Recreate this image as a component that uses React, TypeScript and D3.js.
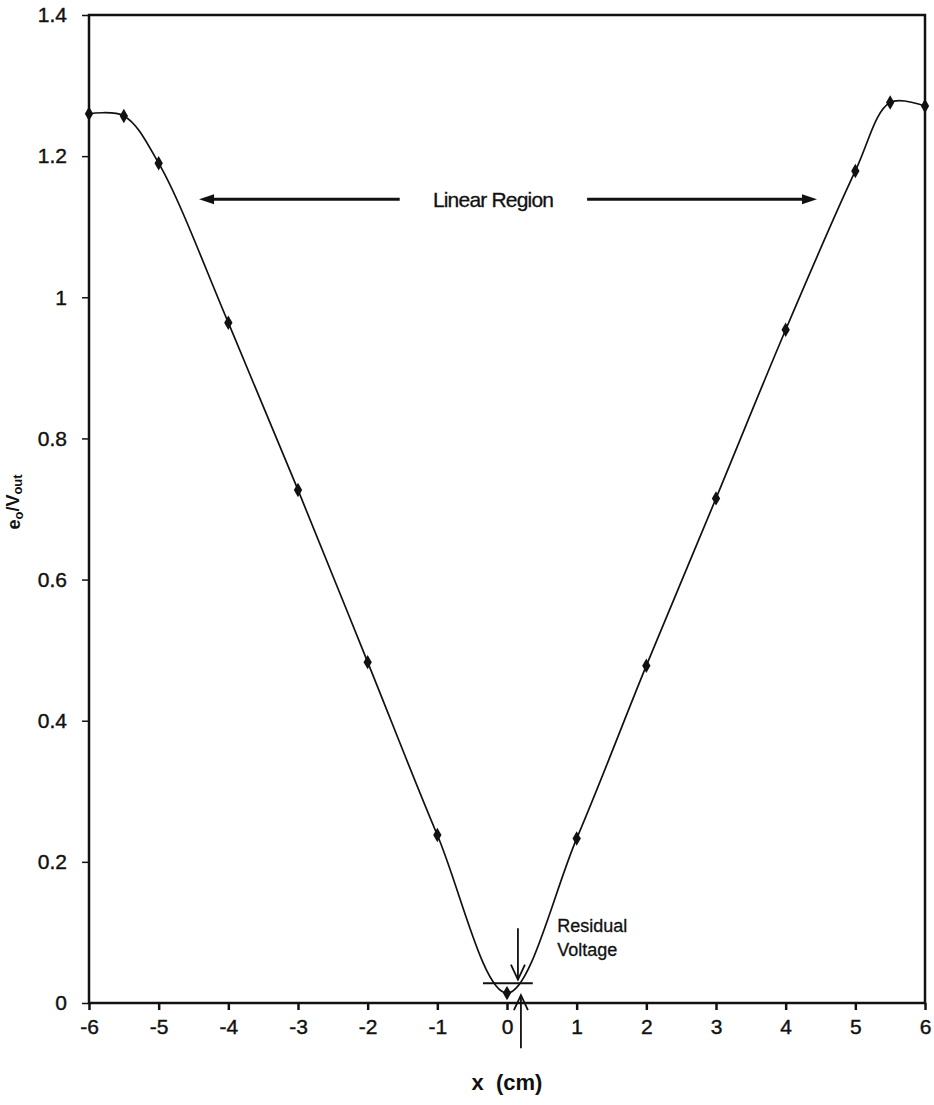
import * as d3 from "d3";
import { useEffect, useRef } from "react";

// measured points, x in cm, y is e_o / V_out
const xValues = [-6, -5.5, -5, -4, -3, -2, -1, 0, 1, 2, 3, 4, 5, 5.5, 6];
const yValues = [1.26, 1.257, 1.19, 0.964, 0.727, 0.483, 0.238, 0.014, 0.233, 0.478, 0.715, 0.954, 1.179, 1.276, 1.271];

const xTicks = [-6, -5, -4, -3, -2, -1, 0, 1, 2, 3, 4, 5, 6];
const yTicks = [0, 0.2, 0.4, 0.6, 0.8, 1, 1.2, 1.4];

// annotation anchors in data units
const linearArrowLeft = [-4.42, -1.54];
const linearArrowRight = [1.15, 4.45];
const linearArrowY = 1.139;
const linearLabelX = -0.2;

const residualBar = [-0.345, 0.37, 0.028];
const residualDown = [0.157, 0.106, 0.033];
const residualUp = [0.2, -0.064, 0.011];
const residualLabel = [0.72, 0.1];

const W = 934;
const H = 1105;

const App = () => {
  const chartRef = useRef(null);

  useEffect(() => {
    const svg = d3.select(chartRef.current);
    svg.selectAll("*").remove();

    const margin = { top: 15, bottom: 102, left: 89, right: 9 };

    const scaleX = d3.scaleLinear().domain([-6, 6]).range([margin.left, W - margin.right]);
    const scaleY = d3.scaleLinear().domain([0, 1.4]).range([H - margin.bottom, margin.top]);

    const font = "'Liberation Sans', Arial, sans-serif";

    // frame
    svg.append("rect")
      .attr("x", scaleX(-6))
      .attr("y", scaleY(1.4))
      .attr("width", scaleX(6) - scaleX(-6))
      .attr("height", scaleY(0) - scaleY(1.4))
      .style("fill", "none")
      .style("stroke", "#111")
      .style("stroke-width", 2.5);

    const xAxis = d3.axisBottom(scaleX)
      .tickValues(xTicks)
      .tickSize(7)
      .tickPadding(9)
      .tickFormat(d => String(d));

    const gx = svg.append("g")
      .attr("transform", `translate(0, ${scaleY(0)})`)
      .call(xAxis);

    gx.select(".domain").remove();
    gx.selectAll("line").style("stroke", "#111").style("stroke-width", 2.5);
    gx.selectAll("text")
      .style("font-family", font)
      .style("font-size", "21px")
      .style("stroke", "#111")
      .style("stroke-width", 0.4)
      .style("fill", "#111");

    const yAxis = d3.axisLeft(scaleY)
      .tickValues(yTicks)
      .tickSize(7)
      .tickPadding(15)
      .tickFormat(d => (d === 0 || d === 1 ? String(d) : d3.format(".1f")(d)));

    const gy = svg.append("g")
      .attr("transform", `translate(${scaleX(-6)}, 0)`)
      .call(yAxis);

    gy.select(".domain").remove();
    gy.selectAll("line").style("stroke", "#111").style("stroke-width", 1.5);
    gy.selectAll("text")
      .style("font-family", font)
      .style("font-size", "21px")
      .style("stroke", "#111")
      .style("stroke-width", 0.4)
      .style("fill", "#111");

    const points = xValues.map((x, i) => [x, yValues[i]]);

    const line = d3.line()
      .x(d => scaleX(d[0]))
      .y(d => scaleY(d[1]))
      .curve(d3.curveCatmullRom.alpha(0.5));

    svg.append("path")
      .datum(points)
      .attr("d", line)
      .style("fill", "none")
      .style("stroke", "#111")
      .style("stroke-width", 1.7);

    svg.selectAll(".dot")
      .data(points)
      .enter()
      .append("path")
      .attr("class", "dot")
      .attr("d", d3.symbol().type(d3.symbolDiamond).size(60))
      .attr("transform", d => `translate(${scaleX(d[0])}, ${scaleY(d[1])})`)
      .style("fill", "#111");

    // arrow helpers
    const filledHead = (tipX, tipY, dir) => {
      const len = 15;
      const half = 5;
      svg.append("path")
        .attr("d", `M${tipX},${tipY} L${tipX - dir * len},${tipY - half} L${tipX - dir * len},${tipY + half} Z`)
        .style("fill", "#111");
    };

    // linear region arrows
    const ay = scaleY(linearArrowY);
    svg.append("line")
      .attr("x1", scaleX(linearArrowLeft[0]) + 10)
      .attr("x2", scaleX(linearArrowLeft[1]))
      .attr("y1", ay)
      .attr("y2", ay)
      .style("stroke", "#111")
      .style("stroke-width", 3);
    filledHead(scaleX(linearArrowLeft[0]), ay, -1);

    svg.append("line")
      .attr("x1", scaleX(linearArrowRight[0]))
      .attr("x2", scaleX(linearArrowRight[1]) - 10)
      .attr("y1", ay)
      .attr("y2", ay)
      .style("stroke", "#111")
      .style("stroke-width", 3);
    filledHead(scaleX(linearArrowRight[1]), ay, 1);

    svg.append("text")
      .attr("x", scaleX(linearLabelX))
      .attr("y", ay)
      .attr("dy", "0.35em")
      .attr("text-anchor", "middle")
      .style("font-family", font)
      .style("font-size", "21px")
      .style("letter-spacing", "-0.8px")
      .style("stroke", "#111")
      .style("stroke-width", 0.3)
      .style("fill", "#111")
      .text("Linear Region");

    // residual voltage marker
    svg.append("line")
      .attr("x1", scaleX(residualBar[0]))
      .attr("x2", scaleX(residualBar[1]))
      .attr("y1", scaleY(residualBar[2]))
      .attr("y2", scaleY(residualBar[2]))
      .style("stroke", "#111")
      .style("stroke-width", 2);

    const vArrow = (x, y0, y1) => {
      const px = scaleX(x);
      const p0 = scaleY(y0);
      const p1 = scaleY(y1);
      const dir = p1 > p0 ? 1 : -1;
      svg.append("line")
        .attr("x1", px).attr("x2", px)
        .attr("y1", p0).attr("y2", p1)
        .style("stroke", "#111")
        .style("stroke-width", 1.8);
      svg.append("path")
        .attr("d", `M${px - 7},${p1 - dir * 15} L${px},${p1} L${px + 7},${p1 - dir * 15}`)
        .style("fill", "none")
        .style("stroke", "#111")
        .style("stroke-width", 1.8);
    };

    vArrow(residualDown[0], residualDown[1], residualDown[2]);
    vArrow(residualUp[0], residualUp[1], residualUp[2]);

    const rl = svg.append("text")
      .attr("x", scaleX(residualLabel[0]))
      .attr("y", scaleY(residualLabel[1]))
      .style("font-family", font)
      .style("font-size", "18px")
      .style("stroke", "#111")
      .style("stroke-width", 0.3)
      .style("fill", "#111");
    rl.append("tspan").text("Residual");
    rl.append("tspan")
      .attr("x", scaleX(residualLabel[0]))
      .attr("dy", "1.3em")
      .text("Voltage");

    // axis titles
    svg.append("text")
      .attr("x", scaleX(0))
      .attr("y", H - 15)
      .attr("text-anchor", "middle")
      .style("font-family", font)
      .style("font-size", "22px")
      .style("font-weight", "bold")
      .style("white-space", "pre")
      .style("fill", "#111")
      .text("x  (cm)");

    const yl = svg.append("text")
      .attr("transform", `translate(20, ${scaleY(0.71)}) rotate(-90)`)
      .attr("text-anchor", "middle")
      .style("font-family", font)
      .style("font-size", "18px")
      .style("font-weight", "bold")
      .style("fill", "#111");
    yl.append("tspan").text("e");
    yl.append("tspan").attr("dy", "0.25em").style("font-size", "13px").text("o");
    yl.append("tspan").attr("dy", "-0.25em").text("/V");
    yl.append("tspan").attr("dy", "0.25em").style("font-size", "13px").text("out");
  }, []);

  return (
    <div style={{ position: "absolute", left: 0, top: 0, background: "#fff" }}>
      <svg ref={chartRef} width={W} height={H} style={{ display: "block" }}></svg>
    </div>
  );
};

export default App;
